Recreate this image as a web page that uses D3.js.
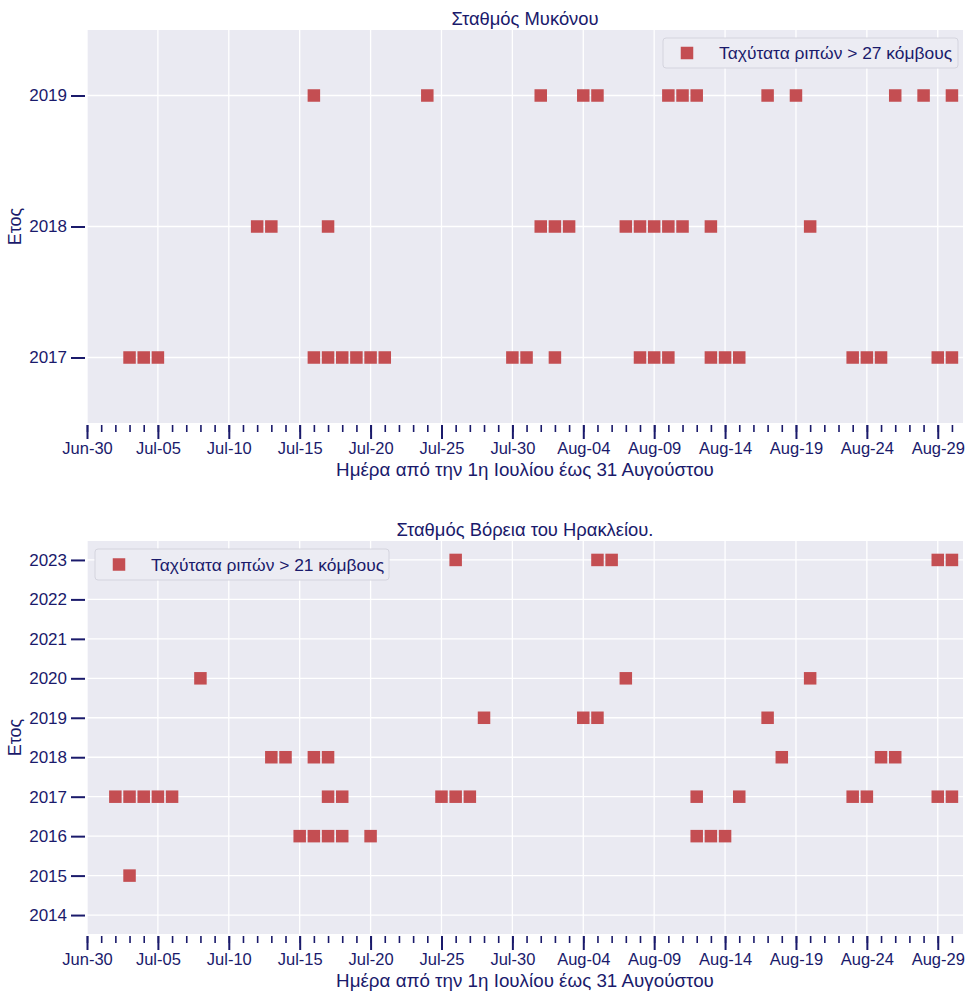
<!DOCTYPE html>
<html>
<head>
<meta charset="utf-8">
<script src="https://cdn.jsdelivr.net/npm/d3@7"></script>
<style>
  html, body { margin: 0; padding: 0; background: #ffffff; }
  svg { display: block; }
  text { font-family: "Liberation Sans", Arial, sans-serif; fill: #1a1a6b; }
</style>
</head>
<body>
<svg id="chart" width="968" height="992"></svg>
<script>
// ---------- DATA ----------
const xStart = "Jun-30";
const xLabel = "Ημέρα από την 1η Ιουλίου έως 31 Αυγούστου";
const yLabel = "Ετος";

// Mykonos station (gusts > 27 knots)
const mykTitle = "Σταθμός Μυκόνου";
const mykLegend = "Ταχύτατα ριπών > 27 κόμβους";
const mykYears = [2017, 2018, 2019];
const myk2017 = ["Jul-03","Jul-04","Jul-05","Jul-16","Jul-17","Jul-18","Jul-19","Jul-20","Jul-21","Jul-30","Jul-31","Aug-02","Aug-08","Aug-09","Aug-10","Aug-13","Aug-14","Aug-15","Aug-23","Aug-24","Aug-25","Aug-29","Aug-30"];
const myk2018 = ["Jul-12","Jul-13","Jul-17","Aug-01","Aug-02","Aug-03","Aug-07","Aug-08","Aug-09","Aug-10","Aug-11","Aug-13","Aug-20"];
const myk2019 = ["Jul-16","Jul-24","Aug-01","Aug-04","Aug-05","Aug-10","Aug-11","Aug-12","Aug-17","Aug-19","Aug-26","Aug-28","Aug-30"];

// North Heraklion station (gusts > 21 knots)
const herTitle = "Σταθμός Βόρεια του Ηρακλείου.";
const herLegend = "Ταχύτατα ριπών > 21 κόμβους";
const herYears = [2014, 2015, 2016, 2017, 2018, 2019, 2020, 2021, 2022, 2023];
const her2015 = ["Jul-03"];
const her2016 = ["Jul-15","Jul-16","Jul-17","Jul-18","Jul-20","Aug-12","Aug-13","Aug-14"];
const her2017 = ["Jul-02","Jul-03","Jul-04","Jul-05","Jul-06","Jul-17","Jul-18","Jul-25","Jul-26","Jul-27","Aug-12","Aug-15","Aug-23","Aug-24","Aug-29","Aug-30"];
const her2018 = ["Jul-13","Jul-14","Jul-16","Jul-17","Aug-18","Aug-25","Aug-26"];
const her2019 = ["Jul-28","Aug-04","Aug-05","Aug-17"];
const her2020 = ["Jul-08","Aug-07","Aug-20"];
const her2023 = ["Jul-26","Aug-05","Aug-06","Aug-29","Aug-30"];

// ---------- BUILD ----------
const parse = d3.utcParse("%b-%d");
const fmt = d3.utcFormat("%b-%d");
function rows(obj) {
  const out = [];
  Object.entries(obj).forEach(([yr, days]) => days.forEach(d => out.push({ year: +yr, date: parse(d) })));
  return out;
}
const mykData = rows({2017: myk2017, 2018: myk2018, 2019: myk2019});
const herData = rows({2015: her2015, 2016: her2016, 2017: her2017, 2018: her2018, 2019: her2019, 2020: her2020, 2023: her2023});

const svg = d3.select("#chart");
const C = { bg: "#eaeaf2", grid: "#ffffff", mark: "#c44e52", ink: "#1a1a6b" };
const left = 87, right = 963;
const t0 = parse(xStart);
const t1 = new Date(d3.utcDay.offset(t0, 61).getTime() + 0.78 * 864e5);

function panel(cfg) {
  const { top, bottom, years, yDomain, data, title, legend, legendBox } = cfg;
  const g = svg.append("g");
  const x = d3.scaleUtc().domain([t0, t1]).range([left, right]);
  const y = d3.scaleLinear().domain(yDomain).range([bottom, top]);

  g.append("rect").attr("x", left).attr("y", top).attr("width", right - left).attr("height", bottom - top).attr("fill", C.bg);

  const minors = d3.utcDays(t0, t1);
  const majors = minors.filter((d, i) => i % 5 === 0);

  // grid
  g.append("g").selectAll("line").data(majors).join("line")
    .attr("x1", d => x(d)).attr("x2", d => x(d)).attr("y1", top).attr("y2", bottom)
    .attr("stroke", C.grid).attr("stroke-width", 1.3);
  g.append("g").selectAll("line").data(years).join("line")
    .attr("x1", left).attr("x2", right).attr("y1", d => y(d)).attr("y2", d => y(d))
    .attr("stroke", C.grid).attr("stroke-width", 1.3);

  // x axis (minor + major)
  const xMinor = d3.axisBottom(x).tickValues(minors).tickSize(7).tickFormat("");
  const gxm = g.append("g").attr("transform", `translate(0,${bottom + 2})`).call(xMinor);
  gxm.select(".domain").remove();
  gxm.selectAll("line").attr("stroke", C.ink).attr("stroke-width", 1.6);
  const xMajor = d3.axisBottom(x).tickValues(majors).tickSize(14).tickPadding(3).tickFormat(fmt);
  const gx = g.append("g").attr("transform", `translate(0,${bottom + 2})`).call(xMajor);
  gx.select(".domain").remove();
  gx.selectAll("line").attr("stroke", C.ink).attr("stroke-width", 2);
  gx.selectAll("text").attr("font-size", 16.5).attr("fill", C.ink).style("font-family", "'Liberation Sans', Arial, sans-serif");

  // y axis
  const yAx = d3.axisLeft(y).tickValues(years).tickFormat(d3.format("d")).tickSize(14).tickPadding(4);
  const gy = g.append("g").attr("transform", `translate(${left - 2},0)`).call(yAx);
  gy.select(".domain").remove();
  gy.selectAll("line").attr("stroke", C.ink).attr("stroke-width", 2);
  gy.selectAll("text").attr("font-size", 17).attr("fill", C.ink).style("font-family", "'Liberation Sans', Arial, sans-serif");

  // marks
  const s = 12.5;
  g.append("g").selectAll("rect").data(data).join("rect")
    .attr("x", d => x(d.date) - s / 2).attr("y", d => y(d.year) - s / 2)
    .attr("width", s).attr("height", s).attr("fill", C.mark);

  // title
  g.append("text").attr("x", (left + right) / 2).attr("y", top - 5).attr("text-anchor", "middle")
    .attr("font-size", 18.4).text(title);
  // x label
  g.append("text").attr("x", (left + right) / 2).attr("y", bottom + 53).attr("text-anchor", "middle")
    .attr("font-size", 18.8).text(xLabel);
  // y label
  g.append("text").attr("transform", `translate(21,${(top + bottom) / 2}) rotate(-90)`).attr("text-anchor", "middle")
    .attr("font-size", 18).text(yLabel);

  // legend
  const L = legendBox;
  g.append("rect").attr("x", L.x).attr("y", L.y).attr("width", L.w).attr("height", L.h).attr("rx", 3)
    .attr("fill", "#ececf3").attr("stroke", "#d4d4de").attr("stroke-width", 1);
  g.append("rect").attr("x", L.x + 24 - s / 2).attr("y", L.y + L.h / 2 - s / 2).attr("width", s).attr("height", s).attr("fill", C.mark);
  g.append("text").attr("x", L.x + 56).attr("y", L.y + L.h / 2 + 6).attr("font-size", 17.4).text(legend);
}

panel({ top: 30, bottom: 423, years: mykYears, yDomain: [2016.5, 2019.5], data: mykData,
  title: mykTitle, legend: mykLegend, legendBox: { x: 663, y: 38, w: 295, h: 30 } });
panel({ top: 541, bottom: 934, years: herYears, yDomain: [2013.52, 2023.48], data: herData,
  title: herTitle, legend: herLegend, legendBox: { x: 95, y: 549, w: 294, h: 31 } });
</script>
</body>
</html>
